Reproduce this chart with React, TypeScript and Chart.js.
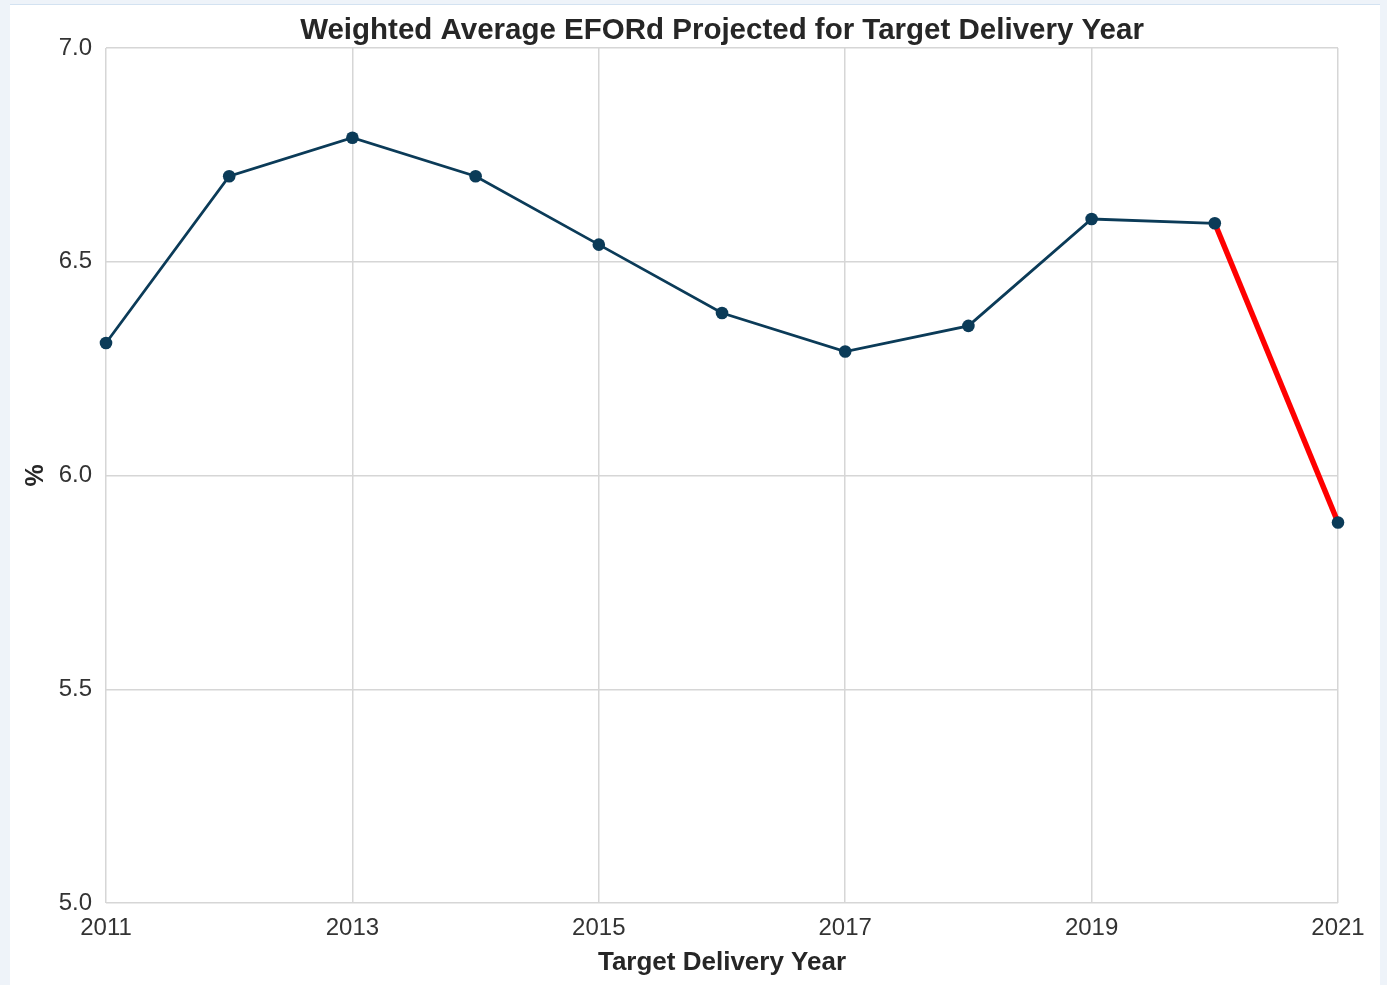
import React, { useEffect, useRef } from "react";
import { Chart, registerables } from "chart.js";

Chart.register(...registerables);

const years = [2011, 2012, 2013, 2014, 2015, 2016, 2017, 2018, 2019, 2020, 2021];
const eford = [6.31, 6.7, 6.79, 6.7, 6.54, 6.38, 6.29, 6.35, 6.6, 6.59, 5.89];
const xTicks = [2011, 2013, 2015, 2017, 2019, 2021];
const yTicks = [5.0, 5.5, 6.0, 6.5, 7.0];
const redFromIndex = 9;

const TITLE = "Weighted Average EFORd Projected for Target Delivery Year";
const X_TITLE = "Target Delivery Year";
const Y_TITLE = "%";

const W = 1387;
const H = 985;
const FONT = "'Liberation Sans', Arial, Helvetica, sans-serif";

const titlePlugin = {
  id: "centeredTitle",
  afterDraw(chart: any) {
    const { ctx, chartArea } = chart;
    ctx.save();
    ctx.font = `bold 29.5px ${FONT}`;
    ctx.fillStyle = "#262626";
    ctx.textAlign = "center";
    ctx.textBaseline = "middle";
    ctx.fillText(TITLE, (chartArea.left + chartArea.right) / 2, 30.5);
    ctx.restore();
  },
};

export default function App() {
  const ref = useRef<HTMLCanvasElement | null>(null);

  useEffect(() => {
    if (!ref.current) return;
    const navy = "#0b3b58";
    const chart = new Chart(ref.current, {
      type: "line",
      data: {
        datasets: [
          {
            data: years.map((y, i) => ({ x: y, y: eford[i] })),
            borderColor: navy,
            borderWidth: 2.8,
            pointBackgroundColor: navy,
            pointBorderColor: navy,
            pointRadius: 6.3,
            pointBorderWidth: 0,
            tension: 0,
            clip: false,
            segment: {
              borderColor: (ctx: any) => (ctx.p0DataIndex >= redFromIndex ? "#ff0000" : navy),
              borderWidth: (ctx: any) => (ctx.p0DataIndex >= redFromIndex ? 5.5 : 2.8),
            },
          } as any,
        ],
      },
      options: {
        responsive: false,
        animation: false,
        layout: { padding: { left: 0, right: 49, top: 48, bottom: 0 } },
        plugins: {
          legend: { display: false },
          tooltip: { enabled: false },
          title: { display: false },
        },
        scales: {
          x: {
            type: "linear",
            min: 2011,
            max: 2021,
            afterBuildTicks: (scale: any) => {
              scale.ticks = xTicks.map((v) => ({ value: v }));
            },
            afterFit: (scale: any) => {
              scale.height = 82;
            },
            grid: { color: "#d6d6d6", lineWidth: 1.5, drawTicks: false },
            border: { display: false },
            ticks: {
              color: "#333333",
              font: { family: FONT, size: 24 },
              padding: 11,
              maxRotation: 0,
              autoSkip: false,
              callback: (v: any) => String(v),
            },
            title: {
              display: true,
              text: X_TITLE,
              color: "#262626",
              font: { family: FONT, size: 26, weight: "bold" },
              padding: { top: 0, bottom: 7 },
            },
          },
          y: {
            type: "linear",
            min: 5,
            max: 7,
            afterBuildTicks: (scale: any) => {
              scale.ticks = yTicks.map((v) => ({ value: v }));
            },
            afterFit: (scale: any) => {
              scale.width = 106;
            },
            grid: { color: "#d6d6d6", lineWidth: 1.5, drawTicks: false },
            border: { display: false },
            ticks: {
              color: "#333333",
              font: { family: FONT, size: 24 },
              padding: 14,
              callback: (v: any) => Number(v).toFixed(1),
            },
            title: {
              display: true,
              text: Y_TITLE,
              color: "#262626",
              font: { family: FONT, size: 25, weight: "bold" },
              padding: { top: 21, bottom: 0 },
            },
          },
        },
      },
      plugins: [titlePlugin],
    });
    return () => chart.destroy();
  }, []);

  return (
    <div
      style={{
        position: "fixed",
        left: 0,
        top: 0,
        width: W,
        height: H,
        background: "#eef3f9",
        overflow: "hidden",
      }}
    >
      <div
        style={{
          position: "absolute",
          left: 10,
          top: 4,
          width: 1370,
          height: H - 4,
          background: "#ffffff",
          borderTop: "1px solid #d3e2f1",
        }}
      />
      <canvas
        ref={ref}
        width={W}
        height={H}
        style={{ position: "absolute", left: 0, top: 0, width: W, height: H }}
      />
    </div>
  );
}
